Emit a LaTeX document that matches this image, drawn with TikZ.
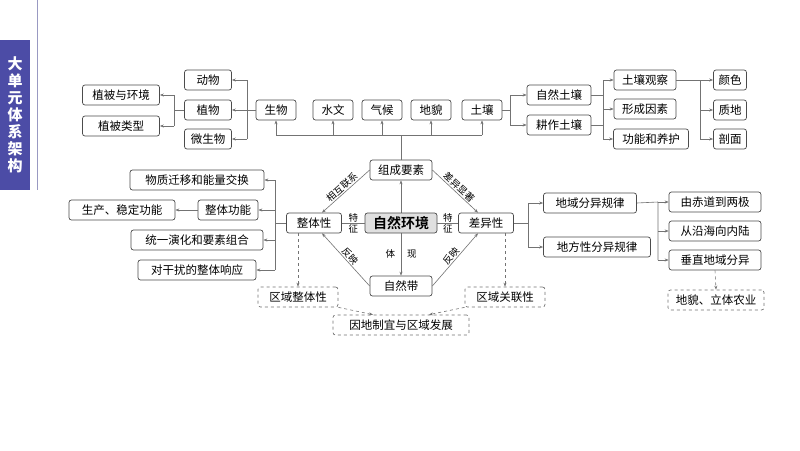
\documentclass[tikz,border=0pt]{standalone}
\usepackage{fontspec}
\setmainfont{Noto Sans CJK SC}
\newfontfamily\cjkb{Noto Sans CJK SC Bold}
\usetikzlibrary{arrows.meta,calc}
\begin{document}
\begin{tikzpicture}[x=1pt,y=-1pt,
  bx/.style={draw=black!70,rounded corners=2.5pt,line width=0.7pt,inner sep=0pt,minimum height=20pt,font=\fontsize{11.5}{12}\selectfont,fill=white},
  dbx/.style={bx,dashed,draw=black!55},
  ln/.style={draw=black!55,line width=0.6pt},
  ar/.style={ln,-{Stealth[length=4pt,width=3pt]}},
  ra/.style={ln,{Stealth[length=4pt,width=3pt]}-},
  dar/.style={ar,dashed},
  lab/.style={font=\fontsize{9.5}{11}\selectfont,inner sep=1pt}]
\useasboundingbox (0,0) rectangle (800,450);
\fill[white] (0,0) rectangle (800,450);
\fill[blue!50!black!70] (0,40) rectangle (30,190);
\draw[blue!40!black!40,line width=1pt] (37,0) -- (37,190);
\node[text=white,font=\bfseries\fontsize{15}{17}\selectfont,align=center] (title) at (15,115) {大\\单\\元\\体\\系\\架\\构};
% top row
\node[bx,minimum width=47pt] (dw) at (208,80) {动物};
\node[bx,minimum width=47pt] (zw) at (208,110) {植物};
\node[bx,minimum width=47pt] (wsw) at (208,139) {微生物};
\node[bx,minimum width=77pt] (zbhj) at (121,95) {植被与环境};
\node[bx,minimum width=77pt] (zblx) at (121,126) {植被类型};
\node[bx,minimum width=40pt] (sw) at (276,110) {生物};
\node[bx,minimum width=40pt] (sw2) at (333,110) {水文};
\node[bx,minimum width=40pt] (qh) at (382,110) {气候};
\node[bx,minimum width=40pt] (dm) at (431,110) {地貌};
\node[bx,minimum width=40pt] (tr) at (482,110) {土壤};
\node[bx,minimum width=64pt] (zrtr) at (559,95) {自然土壤};
\node[bx,minimum width=64pt] (gztr) at (559,125) {耕作土壤};
\node[bx,minimum width=62pt] (trgc) at (645,80) {土壤观察};
\node[bx,minimum width=62pt] (xcys) at (645,109) {形成因素};
\node[bx,minimum width=75pt] (gnyh) at (651,139) {功能和养护};
\node[bx,minimum width=33pt] (ys) at (730,80) {颜色};
\node[bx,minimum width=33pt] (zd) at (730,110) {质地};
\node[bx,minimum width=33pt] (pm) at (730,139) {剖面};
% center
\node[bx,minimum width=62pt] (zcys) at (401,170) {组成要素};
\node[bx,minimum width=55pt] (zt) at (314,223) {整体性};
\node[bx,minimum width=55pt] (cy) at (486,223) {差异性};
\node[bx,minimum width=62pt] (zrd) at (401,286) {自然带};
\draw[ar] (401,233) -- (zcys.south);
\draw[ar] (401,233) -- (zrd.north);
\node[bx,minimum width=72pt,fill=black!12,font=\cjkb\fontsize{14}{15}\selectfont] (zrhj) at (401,223) {自然环境};
% left
\node[bx,minimum width=134pt] (wzqy) at (197,180) {物质迁移和能量交换};
\node[bx,minimum width=106pt] (scwd) at (122,210) {生产、稳定功能};
\node[bx,minimum width=60pt] (ztgn) at (228,210) {整体功能};
\node[bx,minimum width=132pt] (tyyh) at (197,240) {统一演化和要素组合};
\node[bx,minimum width=118pt] (dgr) at (197,270) {对干扰的整体响应};
\node[dbx,minimum width=80pt] (qyzt) at (298,297) {区域整体性};
\node[dbx,minimum width=80pt] (qygl) at (505,297) {区域关联性};
\node[dbx,minimum width=136pt] (ydzy) at (401,325) {因地制宜与区域发展};
% right
\node[bx,minimum width=93pt] (dyfy) at (590,203) {地域分异规律};
\node[bx,minimum width=107pt] (dfx) at (597,247) {地方性分异规律};
\node[bx,minimum width=92pt] (cd) at (715,202) {由赤道到两极};
\node[bx,minimum width=92pt] (yh) at (715,231) {从沿海向内陆};
\node[bx,minimum width=92pt] (czdy) at (715,260) {垂直地域分异};
\node[dbx,minimum width=96pt] (dmlt) at (716,300) {地貌、立体农业};
% top bus
\draw[ln] (zcys.north) -- (401,135);
\draw[ln] (sw.south |- 0,135) -- (tr.south |- 0,135);
\foreach \n in {sw,sw2,qh,dm,tr} \draw[ar] (\n.south |- 0,135) -- (\n.south);
\draw[ln] (sw.west) -- (247,110) (247,80) -- (247,139);
\foreach \n in {dw,zw,wsw} \draw[ar] (247,0 |- \n.east) -- (\n.east);
\draw[ln] (zw.west) -- (174,110) (174,95) -- (174,126);
\foreach \n in {zbhj,zblx} \draw[ar] (174,0 |- \n.east) -- (\n.east);
\draw[ln] (tr.east) -- (510,110) (510,95) -- (510,125);
\foreach \n in {zrtr,gztr} \draw[ar] (510,0 |- \n.west) -- (\n.west);
\draw[ln] (zrtr.east) -- (603,0 |- zrtr.east) (gztr.east) -- (603,0 |- gztr.east) (603,80) -- (603,139);
\foreach \n in {trgc,xcys,gnyh} \draw[ar] (603,0 |- \n.west) -- (\n.west);
\draw[ln] (trgc.east) -- (700,80) (700,80) -- (700,139);
\foreach \n in {ys,zd,pm} \draw[ar] (700,0 |- \n.west) -- (\n.west);
% center links
\draw[ra] ([xshift=8pt]zt.north) -- node[lab,sloped,above] {相互联系} (zcys.west);
\draw[ar] (zcys.east) -- node[lab,sloped,above] {差异显著} ([xshift=-8pt]cy.north);
\draw[ln] (zrhj.west) -- node[lab,align=center,inner sep=0pt] {特\\征} (zt.east);
\draw[ln] (zrhj.east) -- node[lab,align=center,inner sep=0pt] {特\\征} (cy.west);
\node[lab] (tx) at (401,254) {体\hspace{12pt}现};
\draw[ar] (zrd.west) -- node[lab,sloped,above] {反映} ([xshift=8pt]zt.south);
\draw[ar] (zrd.east) -- node[lab,sloped,above] {反映} ([xshift=-8pt]cy.south);
% left
\draw[ln] (zt.west) -- (275,223) (275,180) -- (275,270);
\foreach \n in {wzqy,ztgn,tyyh,dgr} \draw[ar] (275,0 |- \n.east) -- (\n.east);
\draw[ar] (ztgn.west) -- (scwd.east);
% right
\draw[ln] (cy.east) -- (528,223) (528,203) -- (528,247);
\foreach \n in {dyfy,dfx} \draw[ar] (528,0 |- \n.west) -- (\n.west);
\draw[ln] (dyfy.east) -- (658,202) (658,202) -- (658,260);
\foreach \n in {cd,yh,czdy} \draw[ar] (658,0 |- \n.west) -- (\n.west);
% dashed
\draw[dar] (zt.south -| 298,0) -- (qyzt.north);
\draw[dar] (cy.south -| 505,0) -- (qygl.north);
\draw[dar] (qyzt.south east) -- ([xshift=-28pt]ydzy.north);
\draw[dar] (qygl.south west) -- ([xshift=28pt]ydzy.north);
\draw[dar] (czdy.south) -- (dmlt.north);
\end{tikzpicture}
\end{document}
